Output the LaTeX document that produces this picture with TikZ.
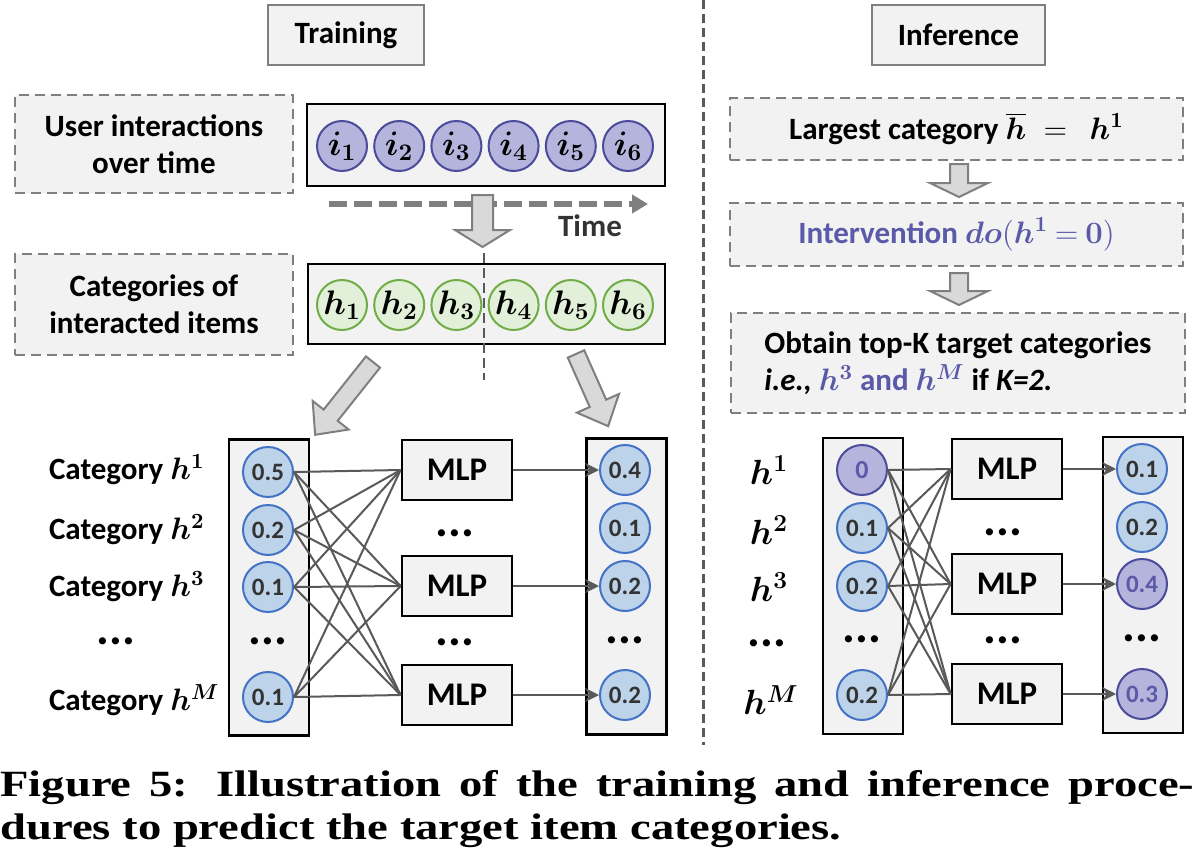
\RequirePackage{fix-cm}
\documentclass[tikz,border=0pt]{standalone}
\usepackage[no-math]{fontspec}
\setmainfont{Carlito}
\newfontfamily\capfont[FakeStretch=1.26]{Liberation Serif}
\usetikzlibrary{arrows.meta}
\DeclareMathAlphabet{\mathbi}{OML}{cmm}{b}{it}

\definecolor{boxfill}{HTML}{F2F2F2}
\definecolor{framegray}{HTML}{7F7F7F}
\definecolor{linkgray}{HTML}{595959}
\definecolor{itemfill}{HTML}{B4B4DC}
\definecolor{itemdraw}{HTML}{4B4B9B}
\definecolor{catfill}{HTML}{E2F0D9}
\definecolor{catdraw}{HTML}{70AD47}
\definecolor{probfill}{HTML}{BDD3EA}
\definecolor{probdraw}{HTML}{4472C4}
\definecolor{purptext}{HTML}{5A5AA8}
\definecolor{arrowfill}{HTML}{D9D9D9}
\definecolor{numgray}{HTML}{333333}

\newcommand{\mainfs}{\fontsize{15.5}{18.6}\selectfont\bfseries}
\newcommand{\hb}[1]{$\mathbi{h}^{\mathbf{#1}}$}
\newcommand{\hM}{$\mathbi{h}^{\mathbi{M}}$}
% tail, angle, length, half shaft, half head, head length
\newcommand{\blockarrow}[6]{%
  \draw[blockarr, shift={#1}, rotate=#2] (0,-#4) -- ({#3-#6},-#4) -- ({#3-#6},-#5)
    -- (#3,0) -- ({#3-#6},#5) -- ({#3-#6},#4) -- (0,#4) -- cycle;}

\tikzset{
  headbox/.style = {draw=framegray, line width=1pt, fill=boxfill, minimum height=30pt, font=\mainfs},
  notebox/.style = {draw=framegray, line width=1pt, dash pattern=on 5pt off 3pt, fill=boxfill,
    align=center, font=\mainfs},
  seqbox/.style = {draw=black, line width=1.4pt, fill=boxfill},
  colbox/.style = {draw=black, line width=1.4pt, fill=boxfill, minimum width=40pt, minimum height=148pt},
  mlpbox/.style = {draw=black, line width=1.4pt, fill=boxfill, minimum width=55pt, minimum height=30pt,
    font=\fontsize{16.5}{18}\selectfont\bfseries},
  ball/.style = {circle, line width=1pt, minimum size=25pt, inner sep=0pt},
  itemball/.style = {ball, draw=itemdraw, fill=itemfill, font=\fontsize{17}{18}\selectfont},
  catball/.style = {ball, draw=catdraw, fill=catfill, font=\fontsize{17}{18}\selectfont},
  probball/.style = {ball, draw=probdraw, fill=probfill, text=numgray, font=\fontsize{12.5}{13}\selectfont\bfseries},
  doneball/.style = {ball, draw=itemdraw, fill=itemfill, text=purptext, font=\fontsize{12.5}{13}\selectfont\bfseries},
  dotsnode/.style = {inner sep=0pt, font=\fontsize{24}{24}\selectfont\bfseries},
  catlabel/.style = {font=\mainfs},
  hlabel/.style = {font=\fontsize{17.5}{18}\selectfont},
  link/.style = {draw=linkgray, line width=1pt},
  linkarrow/.style = {link, -{Stealth[length=7pt, width=7pt]}},
  blockarr/.style = {draw=framegray, line width=1pt, fill=arrowfill},
  timearrow/.style = {draw=framegray, line width=3pt, dash pattern=on 9pt off 3.5pt,
    -{Triangle[length=8pt, width=9pt]}},
  divider/.style = {draw=linkgray, line width=1.5pt, dash pattern=on 4.5pt off 2.5pt},
  splitline/.style = {draw=linkgray, line width=1.2pt, dash pattern=on 5pt off 2.5pt}
}

\begin{document}
\begin{tikzpicture}[x=0.5pt, y=-0.5pt]
\useasboundingbox (0,0) rectangle (1194,862);

% headers and divider
\node[headbox, minimum width=78pt] (train) at (346,35) {Training};
\node[headbox, minimum width=86.5pt] (infer) at (958.5,35) {Inference};
\draw[divider] (703,0) -- (703,745);

% training: sequences
\node[notebox, minimum width=139pt, minimum height=49pt] (user) at (154,144) {User interactions\\over time};
\node[notebox, minimum width=139pt, minimum height=50.5pt] (cats) at (154,304.5) {Categories of\\interacted items};
\node[seqbox, minimum width=179pt, minimum height=41pt] (iseq) at (486,145) {};
\node[seqbox, minimum width=178.5pt, minimum height=40pt] (hseq) at (486.5,304) {};
\foreach \k [count=\n from 0] in {1,...,6} {
  \node[itemball] (i\k) at ({342+57.2*\n},146) {$\mathbi{i}_{\mathbf{\k}}$};
  \node[catball] (h\k) at ({342+57.2*\n},305) {$\mathbi{h}_{\mathbf{\k}}$};
}
\coordinate (t0) at (329,204);
\coordinate (t1) at (648,204);
\draw[timearrow] (t0) -- (t1);
\node[font=\mainfs, text=numgray] (time) at (590,226) {Time};
\blockarrow{(482.5,195)}{-90}{52}{10.5}{27.5}{17}
\draw[splitline] (484,253) -- (484,380);
\blockarrow{(373,362)}{-128.5}{93}{9}{23}{25}
\blockarrow{(576,354)}{-66}{79}{9}{23}{25}

% training: prediction
\node[catlabel, anchor=west] (tlab1) at (42,470) {Category \hb{1}};
\node[catlabel, anchor=west] (tlab2) at (42,530) {Category \hb{2}};
\node[catlabel, anchor=west] (tlab3) at (42,587) {Category \hb{3}};
\node[dotsnode] (tlab4) at (116,641) {...};
\node[catlabel, anchor=west] (tlab5) at (42,700) {Category \hM};
\node[colbox] (tcolin) at (269,587.5) {};
\node[colbox] (tcolout) at (626.5,586.5) {};
\foreach \n/\y/\v in {1/472/0.5, 2/530/0.2, 3/587/0.1, 5/697/0.1}
  \node[probball] (tin\n) at (268,\y) {\v};
\node[dotsnode] (tin4) at (268,641) {...};
\foreach \n/\y/\v in {1/470/0.4, 2/528/0.1, 3/586/0.2, 5/695/0.2}
  \node[probball] (tout\n) at (625,\y) {\v};
\node[dotsnode] (tout4) at (625,640) {...};
\node[mlpbox] (tmlp1) at (457,470) {MLP};
\node[mlpbox] (tmlp2) at (457,586) {MLP};
\node[mlpbox] (tmlp3) at (457,695) {MLP};
\node[dotsnode] (tmdots1) at (455,533) {...};
\node[dotsnode] (tmdots2) at (455,642) {...};
\foreach \a in {1,2,3,5}
  \foreach \b in {1,2,3}
    \draw[link] (tin\a.east) -- (tmlp\b.west);
\foreach \b/\c in {1/1, 2/3, 3/5}
  \draw[linkarrow] (tmlp\b.east) -- (tout\c.west);

% inference: steps
\node[notebox, minimum width=226.5pt, minimum height=31pt] (largest) at (956.5,129)
  {Largest category $\overline{\mathbi{h}}\;=\;\,\mathbi{h}^{\mathbf{1}}$};
\node[notebox, minimum width=226.5pt, minimum height=31.5pt, text=purptext] (interv) at (956.5,234.5)
  {Intervention $\mathbi{do}\mathbf{(}\mathbi{h}^{\mathbf{1}}\mathbin{\mathbf{=}}\mathbf{0}\mathbf{)}$};
\node[notebox, minimum width=227pt, minimum height=50pt, align=left] (topk) at (958,363)
  {Obtain top-K target categories\\
   \textit{i.e.,} {\color{purptext}\hb{3} and \hM} if \textit{K=2.}};
\blockarrow{(959,164)}{-90}{33}{9}{29}{14}
\blockarrow{(959,273)}{-90}{32}{9}{29}{14}

% inference: prediction
\node[hlabel] (ilab1) at (769,470) {\hb{1}};
\node[hlabel] (ilab2) at (769,530) {\hb{2}};
\node[hlabel] (ilab3) at (769,587) {\hb{3}};
\node[dotsnode] (ilab4) at (767,643) {...};
\node[hlabel] (ilab5) at (771,700) {\hM};
\node[colbox] (icolin) at (863,586) {};
\node[colbox] (icolout) at (1143,585) {};
\node[doneball, font=\fontsize{13}{13}\selectfont\bfseries] (iin1) at (862,470) {0};
\foreach \n/\y/\v in {2/528/0.1, 3/586/0.2, 5/695/0.2}
  \node[probball] (iin\n) at (862,\y) {\v};
\node[dotsnode] (iin4) at (862,639) {...};
\node[probball] (iout1) at (1142,469) {0.1};
\node[probball] (iout2) at (1142,527) {0.2};
\node[doneball] (iout3) at (1142,584) {0.4};
\node[dotsnode] (iout4) at (1142,638) {...};
\node[doneball] (iout5) at (1142,694) {0.3};
\node[mlpbox] (imlp1) at (1007,469) {MLP};
\node[mlpbox] (imlp2) at (1007,584) {MLP};
\node[mlpbox] (imlp3) at (1007,694) {MLP};
\node[dotsnode] (imdots1) at (1003,532) {...};
\node[dotsnode] (imdots2) at (1003,640) {...};
\foreach \a in {1,2,3,5}
  \foreach \b in {1,2,3}
    \draw[link] (iin\a.east) -- (imlp\b.west);
\foreach \b/\c in {1/1, 2/3, 3/5}
  \draw[linkarrow] (imlp\b.east) -- (iout\c.west);

% caption
\node[anchor=north west, inner sep=0pt, text width=597pt, align=justify,
  font=\capfont\bfseries\fontsize{18.5}{21.5}\selectfont] (caption) at (0,770)
  {Figure 5: Illustration of the training and inference proce-\linebreak
   dures to predict the target item categories.};
\end{tikzpicture}
\end{document}
